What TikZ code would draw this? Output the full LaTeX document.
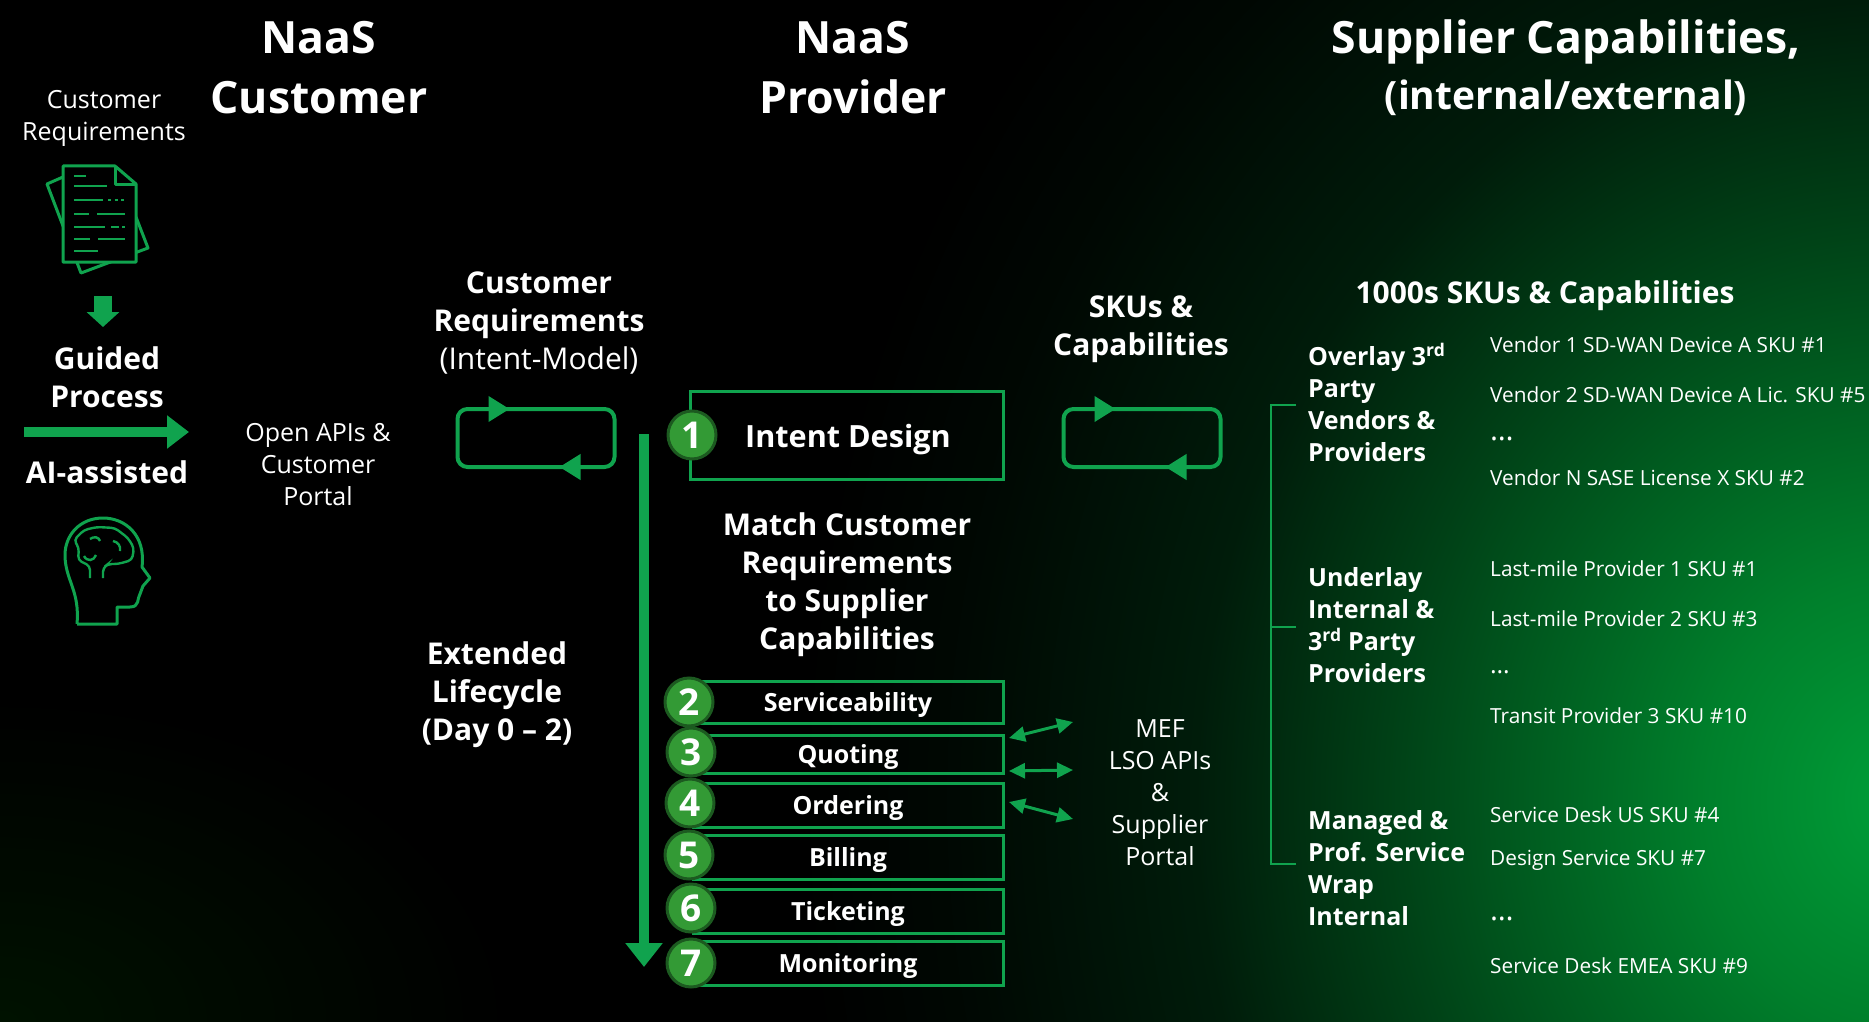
\documentclass[tikz,border=0pt]{standalone}
\usepackage{fontspec}
\setmainfont{Open Sans}
\usetikzlibrary{arrows.meta,fadings}

\definecolor{naasgreen}{HTML}{10A34E}
\definecolor{badgegreen}{HTML}{339A35}
\definecolor{badgering}{HTML}{1C5A20}
\pgfdeclareradialshading{greenglow}{\pgfpoint{0bp}{0bp}}{%
  rgb(0bp)=(0,.62,.22);rgb(4.5bp)=(0,.50,.17);rgb(11.4bp)=(0,.26,.09);rgb(16bp)=(0,.11,.04);rgb(21.6bp)=(0,.03,.01);rgb(25bp)=(0,0,0);rgb(50bp)=(0,0,0)}
\tikzfading[name=cornerfade,inner color=transparent!88,outer color=transparent!100]

\tikzset{
  title/.style={text=white,font=\fontsize{44.5}{60}\selectfont\bfseries,align=center,inner sep=0pt},
  subtitle/.style={text=white,font=\fontsize{39}{60}\selectfont\bfseries,align=center,inner sep=0pt},
  heading/.style={text=white,font=\fontsize{30}{38}\selectfont\bfseries,align=center,inner sep=0pt},
  plain/.style={text=white,font=\fontsize{25}{32}\selectfont,align=center,inner sep=0pt},
  category/.style={text=white,font=\fontsize{25}{32}\selectfont\bfseries,align=left,anchor=west,inner sep=0pt},
  item/.style={text=white,font=\fontsize{20.8}{26}\selectfont,anchor=west,inner sep=0pt},
  stepbox/.style={draw=naasgreen,line width=3pt,minimum width=310pt,inner sep=0pt,outer sep=0pt,
    text height=22pt,text depth=3.5pt,text=white,font=\fontsize{25}{30}\selectfont\bfseries},
  badge/.style={circle,fill=badgegreen,draw=badgering,line width=3pt,minimum size=48pt,inner sep=0pt,
    text=white,font=\fontsize{37}{40}\selectfont\bfseries},
  loopbox/.style={draw=naasgreen,line width=4pt,rounded corners=10pt,minimum width=157pt,minimum height=58pt,
    inner sep=0pt,outer sep=0pt},
  looptip/.style={-{Triangle[length=21pt,width=25pt]},draw=naasgreen,fill=naasgreen,line width=4pt},
  bigarrow/.style={-{Triangle[length=22pt,width=32pt]},draw=naasgreen,fill=naasgreen,line width=10pt},
  apiarrow/.style={{Triangle[length=16pt,width=15pt]}-{Triangle[length=16pt,width=15pt]},draw=naasgreen,
    fill=naasgreen,line width=3pt},
  bracket/.style={draw=naasgreen,line width=2.5pt},
  icon/.style={draw=naasgreen,line width=3pt,line join=round},
  iconline/.style={draw=naasgreen,line width=2.4pt}
}

\begin{document}
\begin{tikzpicture}[x=1pt,y=-1pt]

  % background
  \useasboundingbox (0,0) rectangle (1869,1022);
  \fill[black] (0,0) rectangle (1869,1022);
  \begin{scope}
    \clip (0,0) rectangle (1869,1022);
    \fill[shading=greenglow] (1900,800) ellipse (1100 and 1250);
    \fill[green!60!black,path fading=cornerfade] (0,1022) ellipse (520 and 330);
  \end{scope}

  % column titles
  \node[title] (customerTitle) at (319,68) {NaaS\\Customer};
  \node[title] (providerTitle) at (853,68) {NaaS\\Provider};
  \node[title] (supplierTitle) at (1566,42) {Supplier Capabilities,};
  \node[subtitle] (supplierSub) at (1566,98) {(internal/external)};

  % left column
  \node[plain] (custReq) at (104,118) {Customer\\Requirements};
  \draw[icon,fill=black] (63,177) -- (47,184) -- (81,273) -- (148,248) -- (136,217);
  \draw[icon,fill=black] (63,166) -- (115,166) -- (136,184) -- (136,262) -- (63,262) -- cycle;
  \draw[icon] (115,166) -- (115,184) -- (136,184);
  \draw[iconline] (74,176) -- (86,176) (74,186) -- (107,186) (74,200) -- (103,200)
    (74,214) -- (89,214) (97,214) -- (125,214) (74,227) -- (105,227) (111,227) -- (119,227)
    (74,239) -- (90,239) (98,239) -- (125,239) (74,251) -- (98,251);
  \draw[iconline,dash pattern=on 3pt off 3.5pt] (108,200) -- (126,200);
  \fill[naasgreen] (122,226) rectangle (125,228);
  \coordinate (docTail) at (103,296);
  \coordinate (docTip) at (103,327);
  \path (docTail) edge[-{Triangle[length=15pt,width=32pt]},draw=naasgreen,fill=naasgreen,line width=18pt] (docTip);
  \node[heading] (guided) at (107,377) {Guided\\Process};
  \coordinate (guidedTail) at (24,432);
  \coordinate (guidedTip) at (189,432);
  \path (guidedTail) edge[bigarrow] (guidedTip);
  \node[heading] (assisted) at (107,472) {AI-assisted};
  % head
  \draw[icon] (77,624) -- (117,624) -- (117,607) -- (130,607)
    .. controls (140,607) and (137,598) .. (140,594)
    -- (143,586) -- (150,578) -- (142,567)
    .. controls (146,535) and (125,518) .. (103,518)
    .. controls (80,518) and (65,535) .. (65,555)
    .. controls (65,580) and (80,590) .. (77,624);
  \draw[iconline,rounded corners=4pt] (90,578) -- (90,566) -- (78,560) -- (79,548) -- (74,540) -- (84,530)
    -- (97,527) -- (115,528) -- (128,538) -- (134,548) -- (132,560) -- (118,564) -- (108,564) -- (103,568) -- (103,578);
  \draw[iconline] (84,556) .. controls (87,562) and (94,561) .. (96,555)
    (90,539) .. controls (94,536) and (99,537) .. (100,541)
    (113,541) .. controls (118,542) and (121,546) .. (120,551);

  % customer side
  \node[plain] (openApis) at (318,465) {Open APIs \&\\Customer\\Portal};
  \node[heading,align=center] (custIntent) at (539,323) {Customer\\Requirements\\{\mdseries (Intent-Model)}};
  \node[loopbox] (custLoop) at (536,438) {};
  \path ([xshift=30pt]custLoop.north west) edge[looptip] ([xshift=52pt]custLoop.north west);
  \path ([xshift=-33pt]custLoop.south east) edge[looptip] ([xshift=-55pt]custLoop.south east);

  % lifecycle
  \node[heading] (lifecycle) at (497,695) {Extended\\Lifecycle\\(Day 0 -- 2)};
  \coordinate (lifeTail) at (644,434);
  \coordinate (lifeTip) at (644,967);
  \path (lifeTail) edge[bigarrow,-{Triangle[length=24pt,width=36pt]}] (lifeTip);

  % provider steps
  \node[stepbox,minimum width=313pt,minimum height=88pt] (intentBox) at (847,435) {};
  \node[heading,font=\fontsize{30.6}{36}\selectfont\bfseries] (intentText) at (848,440) {Intent Design};
  \node[badge] (badgeOne) at (692,435) {1};
  \node[heading] (matchReq) at (847,585) {Match Customer\\Requirements\\to Supplier\\Capabilities};
  \node[stepbox,minimum height=42pt] (serviceBox) at (848,702) {Serviceability};
  \node[stepbox,minimum height=38pt] (quoteBox) at (848,754) {Quoting};
  \node[stepbox,minimum height=44pt] (orderBox) at (848,805) {Ordering};
  \node[stepbox,minimum height=44pt] (billBox) at (848,857) {Billing};
  \node[stepbox,minimum height=44pt] (ticketBox) at (848,911) {Ticketing};
  \node[stepbox,minimum height=44pt] (monitorBox) at (848,963) {Monitoring};
  \node[badge] (badgeTwo) at (689,702) {2};
  \node[badge] (badgeThree) at (691,752) {3};
  \node[badge] (badgeFour) at (690,803) {4};
  \node[badge] (badgeFive) at (689,855) {5};
  \node[badge] (badgeSix) at (691,908) {6};
  \node[badge] (badgeSeven) at (691,963) {7};

  % supplier APIs
  \node[plain] (lsoApis) at (1160,793) {MEF\\LSO APIs\\\&\\Supplier\\Portal};
  \coordinate (apiOne) at (1073,722);
  \coordinate (apiTwo) at (1073,770);
  \coordinate (apiThree) at (1073,819);
  \path ([shift={(6pt,-3pt)}]quoteBox.north east) edge[apiarrow] (apiOne);
  \path ([shift={(6pt,2pt)}]quoteBox.south east) edge[apiarrow] (apiTwo);
  \path ([shift={(6pt,-19pt)}]orderBox.north east) edge[apiarrow] (apiThree);

  \node[heading] (skuHead) at (1141,329) {SKUs \&\\Capabilities};
  \node[loopbox] (skuLoop) at (1142,438) {};
  \path ([xshift=30pt]skuLoop.north west) edge[looptip] ([xshift=52pt]skuLoop.north west);
  \path ([xshift=-33pt]skuLoop.south east) edge[looptip] ([xshift=-55pt]skuLoop.south east);

  % supplier catalogue
  \node[heading] (thousands) at (1545,296) {1000s SKUs \& Capabilities};
  \node[category] (overlay) at (1308,402) {Overlay 3\textsuperscript{rd}\\Party\\Vendors \&\\Providers};
  \node[category] (underlay) at (1308,625) {Underlay\\Internal \&\\3\textsuperscript{rd} Party\\Providers};
  \node[category] (managed) at (1308,868) {Managed \&\\Prof. Service\\Wrap\\Internal};
  \coordinate (overlayStub) at (1296,405);
  \coordinate (underlayStub) at (1296,627);
  \coordinate (managedStub) at (1296,864);
  \draw[bracket] (overlayStub) -- ++(-25,0) |- (managedStub);
  \draw[bracket] (underlayStub) -- ++(-25,0);

  \node[item] (itemA) at (1490,345) {Vendor 1 SD-WAN Device A SKU \#1};
  \node[item] (itemB) at (1490,395) {Vendor 2 SD-WAN Device A Lic. SKU \#5};
  \node[item,font=\fontsize{30}{30}\selectfont] (itemC) at (1490,439) {…};
  \node[item] (itemD) at (1490,478) {Vendor N SASE License X SKU \#2};
  \node[item] (itemE) at (1490,569) {Last-mile Provider 1 SKU \#1};
  \node[item] (itemF) at (1490,619) {Last-mile Provider 2 SKU \#3};
  \node[item,font=\fontsize{25}{30}\selectfont] (itemG) at (1490,672) {…};
  \node[item] (itemH) at (1490,716) {Transit Provider 3 SKU \#10};
  \node[item] (itemI) at (1490,815) {Service Desk US SKU \#4};
  \node[item] (itemJ) at (1490,860) {Design Service SKU \#7};
  \node[item,font=\fontsize{30}{30}\selectfont] (itemK) at (1490,919) {…};
  \node[item] (itemL) at (1490,966) {Service Desk EMEA SKU \#9};

\end{tikzpicture}
\end{document}
